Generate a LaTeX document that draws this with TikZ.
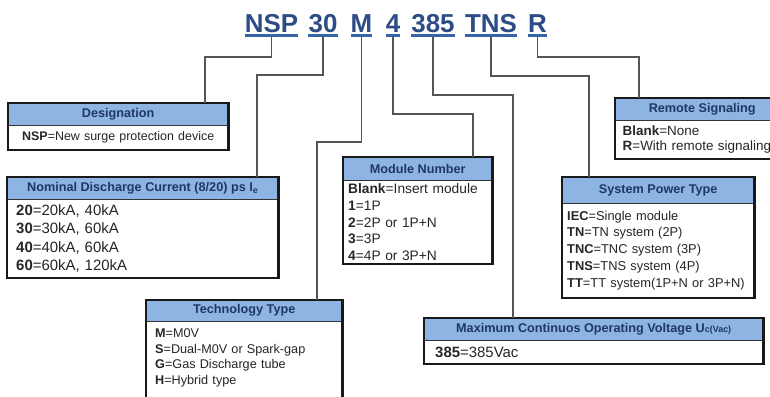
\documentclass[tikz,border=0pt]{standalone}
\usepackage{fontspec}
\setmainfont{Liberation Sans}
\usetikzlibrary{positioning}
\definecolor{codeblue}{HTML}{2B4C84}
\definecolor{lineblue}{HTML}{3763A8}
\definecolor{headfill}{HTML}{8DB4E2}
\definecolor{headtext}{HTML}{1F3864}
\definecolor{linkgray}{HTML}{555555}

\begin{document}
\begin{tikzpicture}[
  x=1bp, y=-1bp,
  code/.style={anchor=base, inner xsep=0pt, inner ysep=3bp, text depth=0pt, text=codeblue,
    font=\fontsize{26}{26}\selectfont\bfseries},
  uline/.style={draw=lineblue, line width=3bp},
  head/.style={anchor=north west, fill=headfill, inner sep=0pt, minimum height=22bp, text=headtext,
    font=\fontsize{12.7}{14}\selectfont\bfseries},
  body/.style={below=0pt of #1, align=left, inner ysep=0pt, text=black!85},
  frame/.style={draw=black!90, line width=2.4bp},
  sep/.style={draw=black!80, line width=1bp},
  link/.style={draw=linkgray, line width=1.8bp},
]
  \path[use as bounding box, fill=white] (0,0) rectangle (770,396);
  \clip (0,0) rectangle (770,396);

  % code letters
  \node[code] (cnsp) at (271.5,32) {NSP};
  \node[code] (ccur) at (323,32) {30};
  \node[code] (ctech) at (361.5,32) {M};
  \node[code] (cmod) at (393,32) {4};
  \node[code] (cvolt) at (433,32) {385};
  \node[code] (cpow) at (491,32) {TNS};
  \node[code] (csig) at (537.5,32) {R};

  % boxes
  \node[head, minimum width=220bp] (desig) at (8,103) {Designation};
  \node[body=desig, text width=208bp, inner xsep=6bp, minimum height=24bp, align=center,
    font=\fontsize{12.5}{15}\selectfont] (desig-b) {\textbf{NSP}=New surge protection device};

  \node[head, minimum width=271bp] (nominal) at (7,177) {Nominal Discharge Current (8/20) ps I\textsubscript{e}};
  \node[body=nominal, text width=253bp, inner xsep=9bp, minimum height=78bp,
    font=\fontsize{15}{18.3}\selectfont] (nominal-b)
    {\textbf{20}=20kA, 40kA\\ \textbf{30}=30kA, 60kA\\ \textbf{40}=40kA, 60kA\\ \textbf{60}=60kA, 120kA};

  \node[head, minimum width=149bp, minimum height=23bp] (module) at (343,157) {Module Number};
  \node[body=module, text width=139bp, inner xsep=5bp, minimum height=83bp,
    font=\fontsize{13.8}{16.7}\selectfont] (module-b)
    {\textbf{Blank}=Insert module\\ \textbf{1}=1P\\ \textbf{2}=2P or 1P+N\\ \textbf{3}=3P\\ \textbf{4}=4P or 3P+N};

  \node[head, minimum width=196bp, minimum height=21bp] (tech) at (146,300) {Technology Type};
  \node[body=tech, text width=178bp, inner xsep=9bp, inner ysep=7bp,
    font=\fontsize{12.7}{15.7}\selectfont] (tech-b)
    {\textbf{M}=M0V\\ \textbf{S}=Dual-M0V or Spark-gap\\ \textbf{G}=Gas Discharge tube\\ \textbf{H}=Hybrid type};

  \node[head, minimum width=339bp] (maxvolt) at (424,318)
    {Maximum Continuos Operating Voltage U{\fontsize{9}{9}\selectfont c(Vac)}};
  \node[body=maxvolt, text width=317bp, inner xsep=11bp, minimum height=23bp,
    font=\fontsize{15}{17}\selectfont] (maxvolt-b) {\textbf{385}=385Vac};

  \node[head, minimum width=192bp, minimum height=26bp] (system) at (562,177) {System Power Type};
  \node[body=system, text width=182bp, inner xsep=5bp, minimum height=94bp,
    font=\fontsize{12.9}{17}\selectfont] (system-b)
    {\textbf{IEC}=Single module\\ \textbf{TN}=TN system (2P)\\ \textbf{TNC}=TNC system (3P)\\
     \textbf{TNS}=TNS system (4P)\\ \textbf{TT}=TT system(1P+N or 3P+N)};

  \node[head, minimum width=174bp] (remote) at (615,98) {Remote Signaling};
  \node[body=remote, text width=159bp, inner xsep=7.5bp, minimum height=38bp,
    font=\fontsize{13.5}{15}\selectfont] (remote-b)
    {\textbf{Blank}=None\\ \textbf{R}=With remote signaling};

  % frames
  \draw[sep] (desig.south west) -- (desig.south east);
  \draw[sep] (nominal.south west) -- (nominal.south east);
  \draw[sep] (module.south west) -- (module.south east);
  \draw[sep] (tech.south west) -- (tech.south east);
  \draw[sep] (maxvolt.south west) -- (maxvolt.south east);
  \draw[sep] (system.south west) -- (system.south east);
  \draw[sep] (remote.south west) -- (remote.south east);
  \draw[frame] (desig.north west) rectangle (desig-b.south east);
  \draw[frame] (nominal.north west) rectangle (nominal-b.south east);
  \draw[frame] (module.north west) rectangle (module-b.south east);
  \draw[frame] (tech.north west) rectangle ([yshift=-10bp]tech-b.south east);
  \draw[frame] (maxvolt.north west) rectangle (maxvolt-b.south east);
  \draw[frame] (system.north west) rectangle (system-b.south east);
  \draw[frame] (remote.north west) rectangle (remote-b.south east);

  % connectors
  \draw[link] (cnsp.south) -- ++(0,22) -| ([xshift=87bp]desig.north);
  \draw[link] (ccur.south) -- ++(0,40) -| ([xshift=114.5bp]nominal.north);
  \draw[link] (ctech.south) -- ++(0,107) -| ([xshift=73bp]tech.north);
  \draw[link] (cmod.south) -- ++(0,79) -| ([xshift=55.5bp]module.north);
  \draw[link] (cvolt.south) -- ++(0,60) -| ([xshift=-80.5bp]maxvolt.north);
  \draw[link] (cpow.south) -- ++(0,41) -| ([xshift=-69bp]system.north);
  \draw[link] (csig.south) -- ++(0,22) -| ([xshift=-63bp]remote.north);

  % underlines
  \draw[uline] (cnsp.south west) -- (cnsp.south east);
  \draw[uline] (ccur.south west) -- (ccur.south east);
  \draw[uline] (ctech.south west) -- (ctech.south east);
  \draw[uline] (cmod.south west) -- (cmod.south east);
  \draw[uline] (cvolt.south west) -- (cvolt.south east);
  \draw[uline] (cpow.south west) -- (cpow.south east);
  \draw[uline] (csig.south west) -- (csig.south east);
\end{tikzpicture}
\end{document}
